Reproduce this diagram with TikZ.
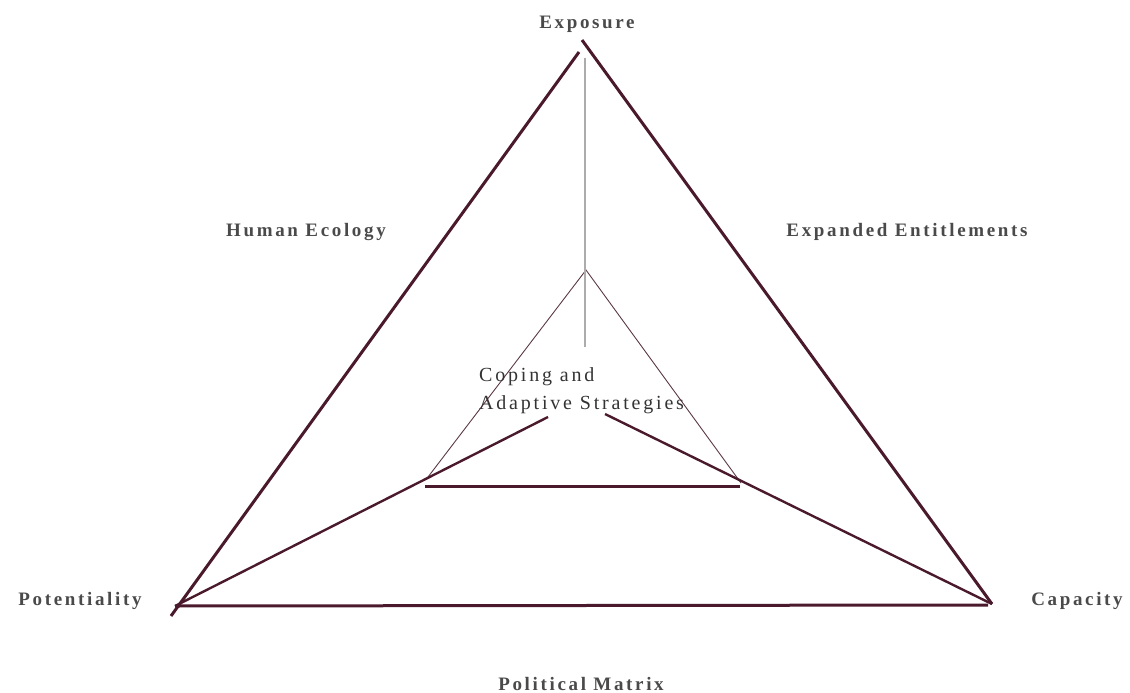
\documentclass[tikz,border=0pt]{standalone}
\usepackage{fontspec}
\setmainfont{Liberation Serif}[LetterSpace=14]
\definecolor{maroon}{HTML}{4A1A2C}
\definecolor{txt}{HTML}{4A4A4A}
\definecolor{txtdark}{HTML}{333333}
\begin{document}
\begin{tikzpicture}[x=1pt,y=-1pt,
  lab/.style={font=\fontsize{19}{22}\selectfont\bfseries, text=txt, inner sep=0pt},
  outer/.style={draw=maroon, line width=3pt},
  mid/.style={draw=maroon, line width=2.4pt},
  thin/.style={draw=maroon!70!gray, line width=0.9pt},
  vert/.style={draw=gray!65, line width=2.6pt}]
\useasboundingbox (0,0) rectangle (1130,693);
% key points
\coordinate (apexR) at (582,40);
\coordinate (apexL) at (579,52);
\coordinate (pot) at (175,606);
\coordinate (potT) at (171,616);
\coordinate (cap) at (992,604);
\coordinate (capB) at (988,605);
\coordinate (iA) at (586,270);
\coordinate (iL) at (428,477);
\coordinate (iR) at (741,483);
\coordinate (bL) at (425,486);
\coordinate (bR) at (740,486);
\coordinate (vT) at (585,58);
\coordinate (vB) at (585,347);
\coordinate (pE) at (548,417);
\coordinate (cE) at (605,414);
% outer triangle
\draw[outer] (apexL) -- (potT);
\draw[outer] (apexR) -- (cap);
\draw[outer] (pot) -- (capB);
% inner triangle
\draw[thin] (iL) -- (iA) -- (iR);
\draw[outer] (bL) -- (bR);
% vertical
\draw[vert] (vT) -- (vB);
% spokes
\draw[mid] (pot) -- (pE);
\draw[mid] (cap) -- (cE);
% labels
\node[lab] (exp) at (587,24) {Exposure};
\node[lab] (he) at (306,232) {Human Ecology};
\node[lab] (ee) at (907,232) {Expanded Entitlements};
\node[lab] (po) at (80,601) {Potentiality};
\node[lab] (ca) at (1077,601) {Capacity};
\node[lab] (pm) at (581,684) {Political Matrix};
\node[lab, anchor=west, align=left, text=txtdark, font=\fontsize{20}{28}\selectfont] (cs) at (479,391) {Coping and\\Adaptive Strategies};
\end{tikzpicture}
\end{document}
